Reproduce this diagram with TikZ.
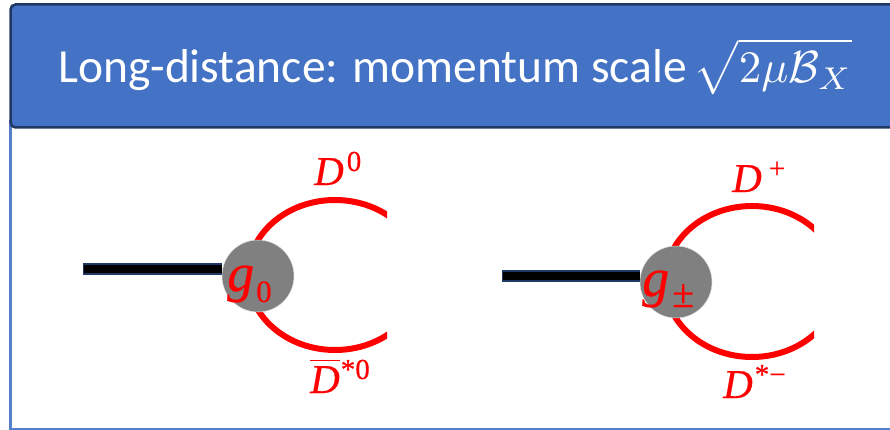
\documentclass[tikz,border=0pt]{standalone}
\usepackage{amsmath,amssymb}
\usepackage{fontspec}
\setmainfont{Carlito}
\newfontfamily\partfont[FakeBold=0.5]{Liberation Serif}
\usepackage{xcolor}
\definecolor{headblue}{HTML}{4472C4}
\definecolor{headdark}{HTML}{1F3864}
\newcommand{\partsup}[2][3]{\kern#1pt\raisebox{14pt}{\fontsize{29}{30}\selectfont\upshape #2}}
\newcommand{\partsub}[3][2]{\kern#1pt\raisebox{-11pt}{\fontsize{#2}{36}\selectfont\upshape #3}}
\begin{document}
\begin{tikzpicture}[x=1pt,y=-1pt,
  header/.style={draw=headdark,line width=2.5pt,fill=headblue,rounded corners=5pt},
  blob/.style={circle,fill=gray,draw=white!75!gray,line width=.5pt,minimum size=72pt,inner sep=0pt},
  leg/.style={draw=headdark,line width=12pt},
  core/.style={black,line width=8.5pt},
  loop/.style={red,line width=6pt},
  lab/.style={text=red,font=\partfont\itshape\fontsize{41}{44}\selectfont,inner sep=0pt},
  cpl/.style={text=red,font=\partfont\itshape\fontsize{54}{56}\selectfont,inner sep=0pt}]
\useasboundingbox (0,0) rectangle (890,430);
\fill[white] (0,0) rectangle (890,430);
% frame below the header
\draw[headblue!90!white,line width=2.5pt] (10.3,120) -- (10.3,429) -- (890,429);
\draw[header] (10.5,4.5) rectangle (905,127.5);
\node[text=white,font=\fontsize{47.5}{50}\selectfont,inner sep=0pt,anchor=base west] (title) at (58,83) {Long-distance: momentum scale};
\node[text=white,inner sep=0pt,scale=4.5,anchor=base west] (scale) at (693,83) {$\sqrt{\rule[-2.2pt]{0pt}{10.5pt}2\mu\mathcal{B}_X}$};
% left loop
\begin{scope}
\clip (230,170) rectangle (387,380);
\draw[loop] (335,275) ellipse (87 and 75);
\end{scope}
\coordinate (legA) at (83,269);
\node[blob] (gA) at (258,276) {};
\draw[leg] (legA) -- (gA.west |- legA);
\draw[core] (legA) ++(1,0) -- (gA.west |- legA);
\node[cpl,anchor=base west] (gnull) at (227,291) {g\partsub{31}{0}};
\node[lab,anchor=base west] (Dnull) at (314,185) {D\partsup{0}};
\node[lab,anchor=base west] (Dstarnull) at (310,393) {$\overline{\hbox{\partfont\itshape D}}$\partsup[1]{*0}};
% right loop
\begin{scope}
\clip (650,175) rectangle (814,385);
\draw[loop] (752,281.5) ellipse (87 and 75.5);
\end{scope}
\coordinate (legB) at (502,276);
\node[blob] (gB) at (676,282) {};
\draw[leg] (legB) -- (gB.west |- legB);
\draw[core] (legB) ++(1,0) -- (gB.west |- legB);
\node[cpl,anchor=base west] (gpm) at (642,296) {g\partsub[3]{40}{±}};
\node[lab,anchor=base west] (Dplus) at (732,192) {D\partsup[7]{+}};
\node[lab,anchor=base west] (Dstarminus) at (723,398) {D\partsup[2]{*−}};
\end{tikzpicture}
\end{document}
